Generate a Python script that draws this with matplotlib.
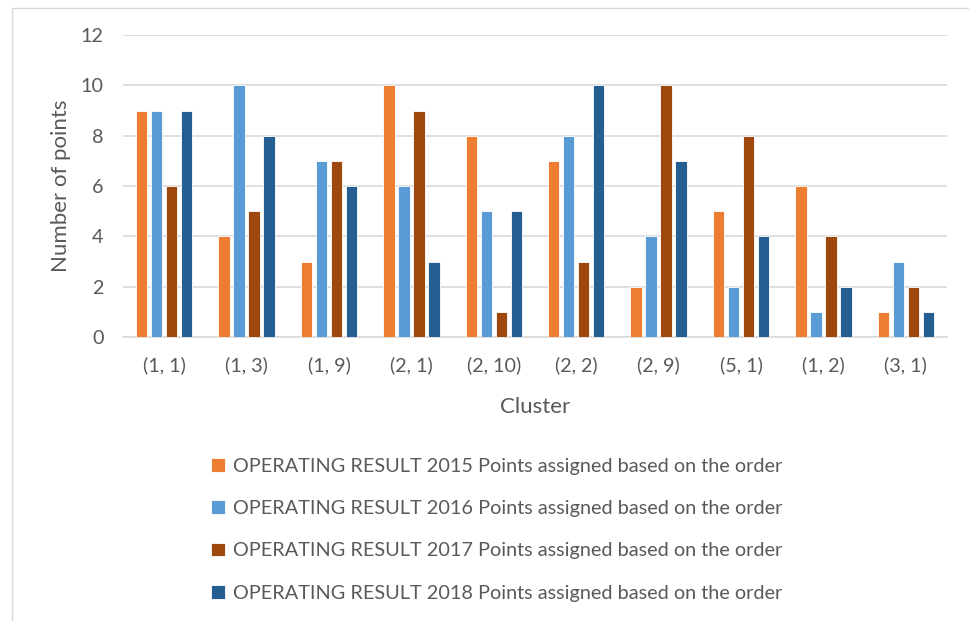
import matplotlib
matplotlib.use("Agg")
import matplotlib.pyplot as plt
import numpy as np
from matplotlib.patches import Rectangle

clusters = ["(1, 1)", "(1, 3)", "(1, 9)", "(2, 1)", "(2, 10)", "(2, 2)", "(2, 9)", "(5, 1)", "(1, 2)", "(3, 1)"]
s2015 = [9, 4, 3, 10, 8, 7, 2, 5, 6, 1]
s2016 = [9, 10, 7, 6, 5, 8, 4, 2, 1, 3]
s2017 = [6, 5, 7, 9, 1, 3, 10, 8, 4, 2]
s2018 = [9, 8, 6, 3, 5, 10, 7, 4, 2, 1]
series_names = [
    "OPERATING RESULT 2015 Points assigned based on the order",
    "OPERATING RESULT 2016 Points assigned based on the order",
    "OPERATING RESULT 2017 Points assigned based on the order",
    "OPERATING RESULT 2018 Points assigned based on the order",
]
colors = ["#ED7D31", "#5B9BD5", "#9E480E", "#255E91"]

plt.rcParams['font.family'] = ['Lato', 'DejaVu Sans']
txt = "#595959"

fig = plt.figure(figsize=(9.7, 6.21), dpi=100)
ax = fig.add_axes([0.1268, 0.4573, 0.8495, 0.4863])

x = np.arange(len(clusters))
step = 0.182
width = 0.14
for i, (vals, name, c) in enumerate(zip([s2015, s2016, s2017, s2018], series_names, colors)):
    ax.bar(x + (i - 1.5) * step, vals, width=width, color=c, edgecolor="white",
           linewidth=0.6, label=name, zorder=3)

ax.set_xlim(-0.5, len(clusters) - 0.5)
ax.set_ylim(0, 12)
ax.set_yticks(range(0, 13, 2))
ax.set_xticks(x)
ax.set_xticklabels(clusters)
ax.yaxis.grid(True, color="#D9D9D9", linewidth=1.2, zorder=0)
for s in ["top", "right", "left"]:
    ax.spines[s].set_visible(False)
ax.spines["bottom"].set_color("#D9D9D9")
ax.spines["bottom"].set_linewidth(1.2)
ax.tick_params(axis="both", length=0, labelsize=14.2, colors=txt)
ax.tick_params(axis="x", pad=14)
ax.tick_params(axis="y", pad=14)
ax.set_xlabel("Cluster", fontsize=16, color=txt, labelpad=16)
ax.set_ylabel("Number of points", fontsize=16, color=txt, labelpad=7)

leg = fig.legend(loc="center", bbox_to_anchor=(0.512, 0.147), ncol=1, frameon=False,
                 fontsize=14.3, labelcolor=txt, handlelength=0.7, handleheight=0.7,
                 handletextpad=0.4, labelspacing=1.28)

fig.patches.append(Rectangle((12 / 970, -0.1), 1.2, 1.1 - 8 / 621, transform=fig.transFigure,
                             fill=False, edgecolor="#D9D9D9", linewidth=1.0))

fig.savefig("out.png", dpi=100)
